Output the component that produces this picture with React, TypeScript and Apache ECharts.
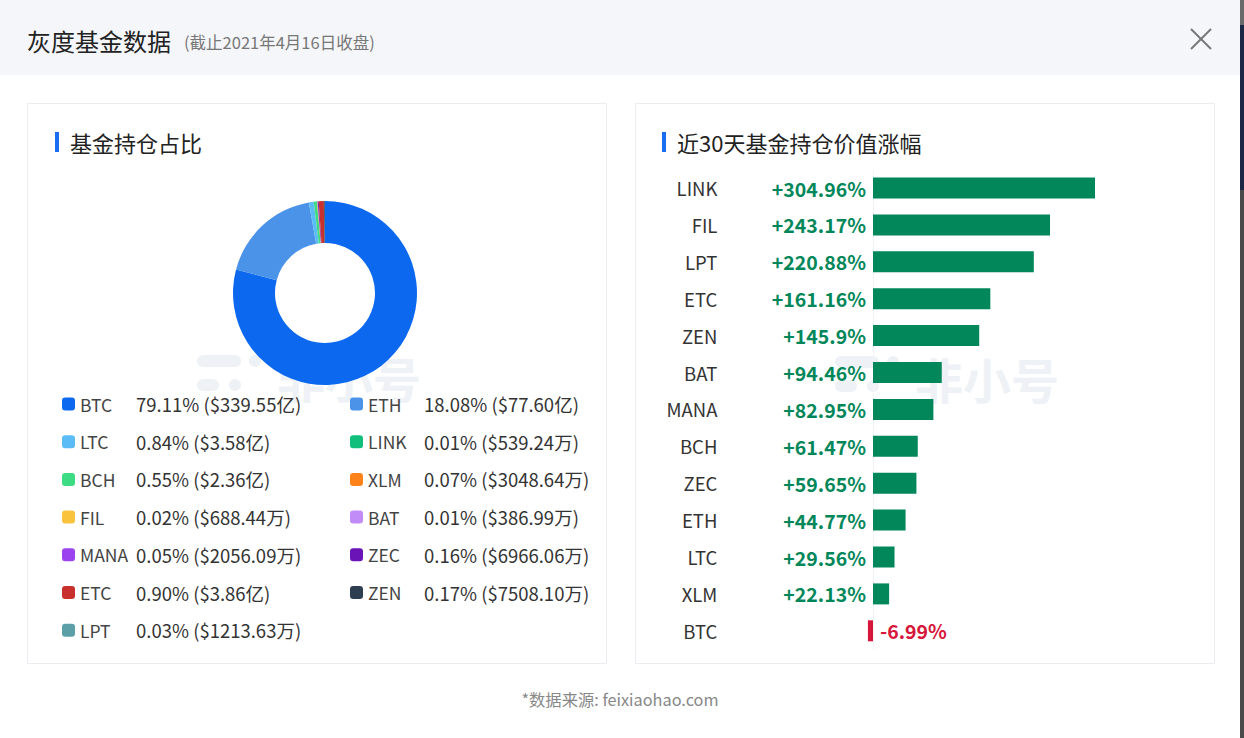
import React, { useEffect, useRef } from "react";
import * as echarts from "echarts";

const coins = ["BTC", "ETH", "LTC", "LINK", "BCH", "XLM", "FIL", "BAT", "MANA", "ZEC", "ETC", "ZEN", "LPT"];
const shares = [79.11, 18.08, 0.84, 0.01, 0.55, 0.07, 0.02, 0.01, 0.05, 0.16, 0.9, 0.17, 0.03];
const holdings = ["$339.55亿", "$77.60亿", "$3.58亿", "$539.24万", "$2.36亿", "$3048.64万", "$688.44万", "$386.99万", "$2056.09万", "$6966.06万", "$3.86亿", "$7508.10万", "$1213.63万"];
const coinColors = ["#0c69ef", "#4a93e9", "#5cbcf6", "#10bf7b", "#3ddc84", "#fc8219", "#f9c33e", "#c18cf7", "#9c43f0", "#6a14b8", "#c8302d", "#2d3e50", "#5c9fa7"];

const gainCats = ["LINK", "FIL", "LPT", "ETC", "ZEN", "BAT", "MANA", "BCH", "ZEC", "ETH", "LTC", "XLM", "BTC"];
const gains = [304.96, 243.17, 220.88, 161.16, 145.9, 94.46, 82.95, 61.47, 59.65, 44.77, 29.56, 22.13, -6.99];

const FONT = "'Noto Sans CJK SC', 'Noto Sans', sans-serif";
const GREEN = "#02875a";
const RED = "#d7163b";
const WM = "#eef1f6";

export default function App() {
  const ref = useRef<HTMLDivElement>(null);
  useEffect(() => {
    if (!ref.current) return;
    const chart = echarts.init(ref.current, undefined, { renderer: "svg" });
    const scale = 0.728;
    const zeroX = 873;
    const xMin = -200;
    const xMax = 400;
    const gridLeft = zeroX + xMin * scale;
    const gridWidth = (xMax - xMin) * scale;
    const rowPitch = 36.9;
    const legendGap = 18.7;

    const watermark = (x: number, y: number) => [
      { type: "rect", shape: { x, y: y - 22, width: 44, height: 12, r: 6 }, style: { fill: WM } },
      { type: "circle", shape: { cx: x + 58, cy: y - 16, r: 6 }, style: { fill: WM } },
      { type: "rect", shape: { x, y: y + 2, width: 22, height: 12, r: 6 }, style: { fill: WM } },
      { type: "circle", shape: { cx: x + 38, cy: y + 8, r: 6 }, style: { fill: WM } },
      { type: "text", x: x + 80, y: y, style: { text: "非小号", font: `bold 48px ${FONT}`, fill: WM, verticalAlign: "middle" } },
    ];

    const option: any = {
      animation: false,
      backgroundColor: "#ffffff",
      graphic: [
        { type: "rect", shape: { x: 0, y: 0, width: 1240, height: 75 }, style: { fill: "#f4f6f9" } },
        { type: "rect", shape: { x: 1240, y: 0, width: 4, height: 25 }, style: { fill: "#6a6a6a" } },
        { type: "rect", shape: { x: 1240, y: 25, width: 4, height: 165 }, style: { fill: "#1b2744" } },
        { type: "rect", shape: { x: 1240, y: 190, width: 4, height: 548 }, style: { fill: "#4a4a4a" } },
        { type: "text", x: 27, y: 40, style: { text: "灰度基金数据", font: `24px ${FONT}`, fill: "#222", verticalAlign: "middle" } },
        { type: "text", x: 184, y: 42, style: { text: "(截止2021年4月16日收盘)", font: `16.5px ${FONT}`, fill: "#777", verticalAlign: "middle" } },
        { type: "line", shape: { x1: 1191, y1: 29, x2: 1211, y2: 49 }, style: { stroke: "#777", lineWidth: 2 } },
        { type: "line", shape: { x1: 1211, y1: 29, x2: 1191, y2: 49 }, style: { stroke: "#777", lineWidth: 2 } },
        { type: "rect", shape: { x: 27.5, y: 103.5, width: 579, height: 560 }, style: { fill: "#fff", stroke: "#ebedf0", lineWidth: 1 } },
        { type: "rect", shape: { x: 635.5, y: 103.5, width: 579, height: 560 }, style: { fill: "#fff", stroke: "#ebedf0", lineWidth: 1 } },
        ...watermark(197, 377),
        ...watermark(835, 378),
        { type: "rect", shape: { x: 55, y: 132, width: 4, height: 20 }, style: { fill: "#1a6cf0" } },
        { type: "text", x: 70, y: 142, style: { text: "基金持仓占比", font: `22px ${FONT}`, fill: "#222", verticalAlign: "middle" } },
        { type: "rect", shape: { x: 662, y: 132, width: 4, height: 20 }, style: { fill: "#1a6cf0" } },
        { type: "text", x: 677, y: 142, style: { text: "近30天基金持仓价值涨幅", font: `22px ${FONT}`, fill: "#222", verticalAlign: "middle" } },
        { type: "text", x: 620, y: 699, style: { text: "*数据来源: feixiaohao.com", font: `16.3px ${FONT}`, fill: "#888", align: "center", verticalAlign: "middle" } },
      ],
      legend: {
        left: 62,
        top: 394.5,
        width: 580,
        padding: 0,
        itemGap: legendGap,
        itemWidth: 13,
        itemHeight: 13,
        icon: "roundRect",
        selectedMode: false,
        data: coins,
        formatter: (name: string) => {
          const i = coins.indexOf(name);
          return `{n|${name}}{v|${shares[i].toFixed(2)}% (${holdings[i]})}`;
        },
        textStyle: {
          fontFamily: FONT,
          fontSize: 19,
          lineHeight: 19,
          rich: {
            n: { width: 56, fontSize: 17.5, color: "#444", lineHeight: 19, fontFamily: FONT },
            v: { width: 288 - legendGap - 74, fontSize: 18.5, color: "#333", lineHeight: 19, fontFamily: FONT },
          },
        },
      },
      grid: {
        left: gridLeft,
        width: gridWidth,
        top: 188 - rowPitch / 2,
        height: rowPitch * gainCats.length,
      },
      xAxis: {
        type: "value",
        min: xMin,
        max: xMax,
        show: false,
      },
      yAxis: {
        type: "category",
        data: gainCats,
        inverse: true,
        axisTick: { show: false },
        axisLine: { show: true, onZero: true, lineStyle: { color: "#f2f3f5" } },
        axisLabel: { margin: 10, fontSize: 18.5, color: "#333", fontFamily: FONT },
      },
      series: [
        {
          type: "pie",
          center: [325, 293],
          radius: [50, 92],
          startAngle: 90,
          clockwise: true,
          label: { show: false },
          labelLine: { show: false },
          silent: true,
          data: coins.map((c, i) => ({ name: c, value: shares[i], itemStyle: { color: coinColors[i] } })),
        },
        {
          type: "bar",
          barWidth: 21,
          silent: true,
          data: gains.map((v) => ({
            value: v,
            itemStyle: { color: v >= 0 ? GREEN : RED },
            label: {
              show: true,
              position: v >= 0 ? "left" : "right",
              distance: 7,
              color: v >= 0 ? GREEN : RED,
              fontSize: 19.5,
              fontWeight: "bold",
              fontFamily: FONT,
              formatter: () => `${v > 0 ? "+" : ""}${v}%`,
            },
          })),
        },
      ],
    };
    chart.setOption(option);
    return () => chart.dispose();
  }, []);
  return (
    <div
      ref={ref}
      style={{ position: "fixed", left: 0, top: 0, width: 1244, height: 738 }}
    />
  );
}
